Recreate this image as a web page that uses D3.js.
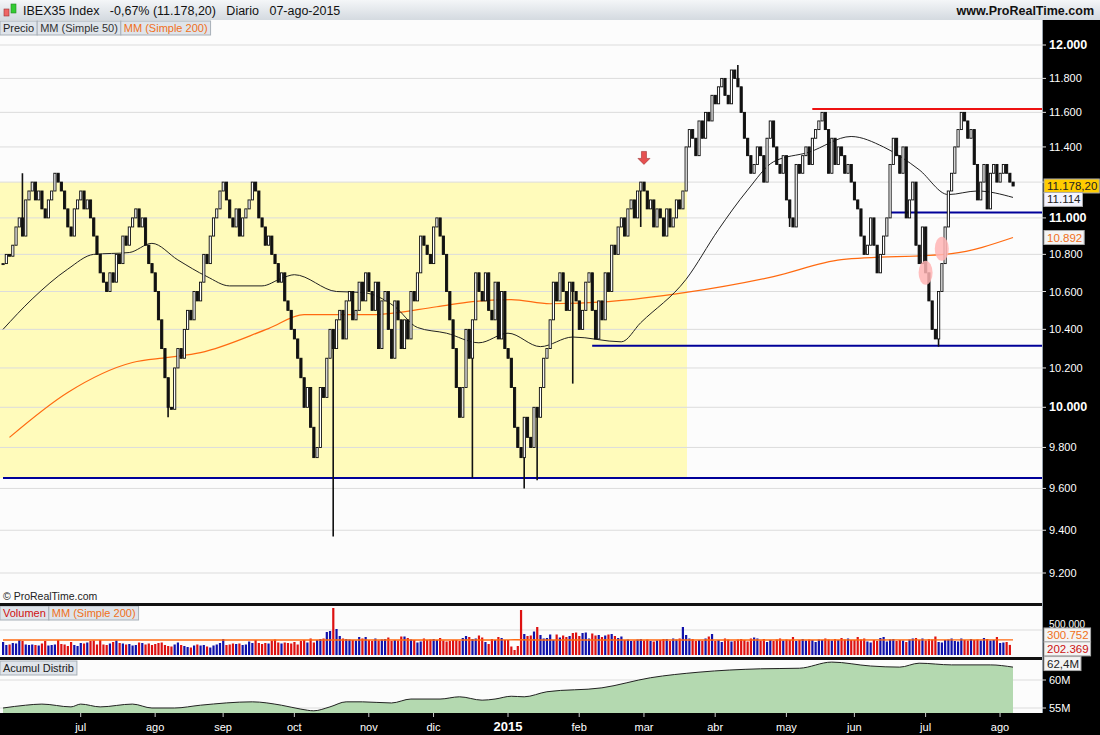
<!DOCTYPE html>
<html><head><meta charset="utf-8">
<script src="https://cdn.jsdelivr.net/npm/d3@7"></script>
<style>
body{margin:0;background:#000;font-family:Arial,"Liberation Sans",sans-serif}
svg text{font-family:Arial,"Liberation Sans",sans-serif}
</style></head><body>
<svg id="c" width="1100" height="735"></svg>
<script>
// daily closes, month by month
const closes = [].concat(
  [10750,10800,10790],
  [10850,10950,11000,10900,11100,11150,11200,11100,11150,11050,11000,11100,11150,11250,11200,11150,11050,10950,10900,11050,11100],
  [11150,11050,11100,11000,10900,10800,10700,10650,10600,10700,10650,10800,10750,10900,10850,10950,11000,11050,10950,11000,10850,10750,10700],
  [10600,10450,10300,10150,10000,9990,10200,10300,10250,10400,10500,10450,10600,10550,10650,10800,10750,10900,11000,11050,11150],
  [11200,11100,11000,10950,11050,10900,11000,11050,11100,11200,11150,11000,10950,10850,10900,10800,10750,10650,10700,10550,10500,10400],
  [10350,10250,10150,10000,10100,9900,9750,9800,10100,10050,10250,10400,10300,10450,10500,10350,10550,10600,10450,10500,10650,10550,10700],
  [10600,10500,10650,10300,10550,10600,10400,10250,10550,10450,10300,10450,10350,10600,10550,10700,10900,10850,10800,10750],
  [10950,11000,10900,10800,10600,10450,10300,10100,9950,10100,10400,10250,10450,10700,10600,10550,10700,10500,10450,10650,10350,10600,10300],
  [10250,10100,9900,9800,9750,9950,9850,9800,10000,9950,10100,10250,10300,10450,10650,10550,10700,10600,10500,10650,10600,10550],
  [10400,10500,10650,10700,10500,10350,10550,10450,10700,10600,10850,10800,10950,11000,10900,11050,11100,11000,11150,11200],
  [11150,11050,11100,10950,11050,11000,10900,11050,10950,11000,11100,11050,11150,11400,11500,11450,11350,11550,11450,11600,11550,11700],
  [11650,11750,11800,11700,11650,11850,11800,11750,11600,11450,11350,11250,11300,11400,11350,11200,11450,11550,11400,11300,11250,11350],
  [11100,11000,10950,11300,11250,11350,11400,11300,11450,11500,11550,11600,11500,11250,11450,11300,11400,11350,11250,11300,11200],
  [11100,11050,10900,10800,10850,11000,10850,10700,10800,10900,11000,11300,11450,11350,11250,11400,11000,11100,11200,10850,10750,10950],
  [10700,10550,10400,10350,10600,10750,10950,11150,11250,11400,11500,11600,11550,11450,11500,11300,11100,11200,11300,11050,11250,11300,11200],
  [11250,11300,11250,11200,11178]
);
// notable wick extremes [bar index, price]
const lowWicks = [[51,9950],[102,9370],[145,9650],[161,9600],[165,9640],[243,10950],[289,10310],[176,10120],[197,10950]];
const highWicks = [[6,11250],[198,11200],[227,11880]];
// volume in thousands
const volume = [
  260,200,210,
  240,230,300,280,210,200,210,200,190,230,280,190,200,210,300,220,210,180,260,200,180,
  240,230,250,280,290,210,300,210,200,230,260,290,240,230,210,220,190,200,250,240,210,230,200,
  220,240,250,200,180,170,210,250,200,180,160,150,190,210,190,200,170,150,190,210,240,
  320,200,210,230,220,230,200,210,270,240,300,240,220,240,230,290,310,250,230,250,240,230,
  260,210,280,300,250,330,250,300,320,330,460,480,940,520,380,330,320,310,300,290,360,330,360,
  300,280,330,290,310,320,350,280,300,290,370,370,340,310,300,250,270,330,300,310,
  320,300,340,290,270,280,300,300,280,340,380,360,320,330,390,350,260,220,320,300,360,340,300,
  300,170,100,180,900,420,380,390,470,560,400,330,340,410,300,410,350,390,360,380,440,450,
  380,440,450,330,430,390,400,360,390,410,420,380,340,370,300,310,280,290,310,320,
  290,310,280,270,290,300,320,320,280,330,310,330,560,400,330,320,280,300,280,330,370,420,
  280,300,260,330,310,270,280,310,320,300,270,330,350,330,290,320,260,300,280,310,330,290,
  310,300,360,280,300,320,290,310,300,260,310,300,330,310,290,320,300,340,310,330,300,
  300,360,310,330,270,250,300,280,340,360,270,310,320,280,300,290,260,310,330,340,300,330,
  290,320,310,370,260,250,300,310,330,280,270,330,300,290,320,300,310,290,340,320,290,300,
  360,240,250,260,202
];
const volMa = [[0,300],[150,300],[158,305],[165,300],[312,300.752]];
// moving averages read at [bar index, value]
const ma50 = [[0,10400],[9,10560],[20,10720],[28,10800],[39,10810],[46,10860],[54,10770],[63,10680],[70,10630],[80,10630],[86,10670],[90,10690],[103,10600],[111,10595],[121,10520],[128,10410],[137,10380],[147,10330],[156,10380],[166,10310],[176,10360],[191,10335],[197,10435],[211,10665],[221,10935],[230,11155],[238,11315],[249,11370],[262,11460],[272,11400],[283,11270],[292,11130],[301,11150],[312,11114]];
const ma200 = [[2,9850],[20,10075],[40,10228],[51,10254],[61,10279],[82,10404],[93,10477],[114,10477],[134,10519],[145,10546],[157,10557],[169,10535],[187,10546],[211,10595],[238,10680],[259,10771],[293,10804],[312,10892]];
// accumulation / distribution, millions
const accDist = [[0,55.0],[7,55.5],[12,55.7],[21,55.2],[24,55.7],[30,55.2],[40,55.7],[46,55.0],[53,55.0],[61,55.5],[77,56.1],[86,55.5],[92,54.8],[96,54.5],[101,55.2],[106,56.1],[111,56.1],[120,55.9],[126,56.6],[135,56.6],[141,57.0],[148,56.4],[152,56.6],[157,57.1],[161,57.0],[168,57.9],[185,58.6],[200,60.4],[215,61.4],[234,62.0],[246,62.1],[256,63.2],[268,62.5],[277,62.3],[283,63.0],[293,62.7],[305,62.7],[312,62.3]];
const priceTicks = [9200,9400,9600,9800,10000,10200,10400,10600,10800,11000,11200,11400,11600,11800,12000];
const hiddenTicks = [11200];
const monthTicks = [[24,"jul"],[47,"ago"],[68,"sep"],[90,"oct"],[113,"nov"],[133,"dic"],[156,"2015"],[178,"feb"],[198,"mar"],[220,"abr"],[242,"may"],[263,"jun"],[285,"jul"],[308,"ago"]];
const hLines = [
  {v:11620, i0:250, col:"#ee1111"},
  {v:11030, i0:274, col:"#000099"},
  {v:10315, i0:182, col:"#000099"},
  {v:9650, i0:0, col:"#000099"}
];

const svg = d3.select("#c");
const W = 1042;
const fmt = d3.format(",.0f");
const es = s => s.replace(/,/g, ".");

const x = d3.scaleLinear().domain([0, closes.length - 1]).range([3, 1013]);
const y = d3.scaleLog().domain([9200, 12000]).range([573, 45]);
const yv = d3.scaleLinear().domain([0, 1000]).range([655, 605]);
const ya = d3.scaleLinear().domain([55, 60]).range([708, 680]);

// header
const grad = svg.append("defs").append("linearGradient").attr("id","hg").attr("x1",0).attr("y1",0).attr("x2",0).attr("y2",1);
grad.append("stop").attr("offset",0).attr("stop-color","#f4f6f8");
grad.append("stop").attr("offset",1).attr("stop-color","#d4dae0");
svg.append("rect").attr("width",1100).attr("height",20).attr("fill","url(#hg)");
svg.append("rect").attr("x",4).attr("y",9).attr("width",5).attr("height",7).attr("fill","#e66").attr("stroke","#933").attr("stroke-width",0.6);
svg.append("rect").attr("x",11).attr("y",4).attr("width",5).attr("height",9).attr("fill","#3c3").attr("stroke","#282").attr("stroke-width",0.6);
svg.append("text").attr("x",23).attr("y",15).attr("font-size",12.5).attr("fill","#111")
  .text("IBEX35 Index   -0,67% (11.178,20)   Diario   07-ago-2015").attr("xml:space","preserve");
svg.append("text").attr("x",1094).attr("y",15).attr("text-anchor","end").attr("font-size",12.5).attr("font-weight","bold").attr("fill","#111").text("www.ProRealTime.com");

// panels
svg.append("rect").attr("x",0).attr("y",20).attr("width",W).attr("height",583).attr("fill","#fcfcfc");
svg.append("rect").attr("x",0).attr("y",606).attr("width",W).attr("height",51).attr("fill","#fcfcfc");
svg.append("rect").attr("x",0).attr("y",660).attr("width",W).attr("height",53).attr("fill","#fcfcfc");

// yellow zone
svg.append("rect").attr("x",0).attr("y",y(11200)).attr("width",687).attr("height",y(9650)-y(11200)).attr("fill","#fffbbb");

// grid
svg.append("g").selectAll("line").data(priceTicks).join("line")
  .attr("x1",0).attr("x2",W).attr("y1",d=>y(d)).attr("y2",d=>y(d)).attr("stroke","#dcdcdc");
svg.append("g").selectAll("line").data([55,60]).join("line")
  .attr("x1",0).attr("x2",W).attr("y1",d=>ya(d)).attr("y2",d=>ya(d)).attr("stroke","#dcdcdc");
svg.append("line").attr("x1",0).attr("x2",W).attr("y1",yv(500)).attr("y2",yv(500)).attr("stroke","#dcdcdc");

// legend buttons
function btn(x0, y0, label, col) {
  const t = svg.append("text").attr("x",x0+3).attr("y",y0+11).attr("font-size",11).attr("fill",col).text(label);
  const w = t.node().getComputedTextLength() + 6;
  svg.insert("rect","text:last-of-type").attr("x",x0).attr("y",y0).attr("width",w).attr("height",14)
    .attr("fill","#dfe4ea").attr("stroke","#a8b0b8");
  t.raise();
  return x0 + w;
}
let bx = btn(0,21,"Precio","#222");
bx = btn(bx,21,"MM (Simple 50)","#333");
btn(bx,21,"MM (Simple 200)","#f07020");
bx = btn(0,606,"Volumen","#d01010");
btn(bx,606,"MM (Simple 200)","#f07020");
btn(0,661,"Acumul Distrib","#222");

// moving averages
const line = d3.line().x(d=>x(d[0])).y(d=>y(d[1])).curve(d3.curveMonotoneX);
svg.append("path").attr("d",line(ma200)).attr("fill","none").attr("stroke","#ff6a10").attr("stroke-width",1.2);
svg.append("path").attr("d",line(ma50)).attr("fill","none").attr("stroke","#222").attr("stroke-width",1);

// horizontal lines
svg.append("g").selectAll("line").data(hLines).join("line")
  .attr("x1",d=>x(d.i0)).attr("x2",W).attr("y1",d=>y(d.v)).attr("y2",d=>y(d.v))
  .attr("stroke",d=>d.col).attr("stroke-width",2);

// candles
const lowMap = new Map(lowWicks), highMap = new Map(highWicks);
const bars = closes.map((c,i)=>{
  const o = i ? closes[i-1] : c;
  return {i, o, c, lo: lowMap.get(i) ?? Math.min(o,c), hi: highMap.get(i) ?? Math.max(o,c)};
});
const cg = svg.append("g");
cg.selectAll("line").data(bars).join("line")
  .attr("x1",d=>x(d.i)).attr("x2",d=>x(d.i)).attr("y1",d=>y(d.hi)).attr("y2",d=>y(d.lo))
  .attr("stroke","#111").attr("stroke-width",1.6);
cg.selectAll("rect").data(bars).join("rect")
  .attr("x",d=>x(d.i)-1).attr("width",2.2)
  .attr("y",d=>y(Math.max(d.o,d.c))).attr("height",d=>Math.max(1,Math.abs(y(d.o)-y(d.c))))
  .attr("fill",d=>d.c>=d.o?"#fff":"#111").attr("stroke","#111").attr("stroke-width",0.9);

// marker arrow and ellipses
const ax = x(198), ay = y(11300);
svg.append("path").attr("d",`M${ax-2.5},${ay-13}h5v7h3.5l-6,6l-6,-6h3.5z`).attr("fill","#e65050").attr("stroke","#a03030").attr("stroke-width",0.6);
svg.append("ellipse").attr("cx",x(285)).attr("cy",y(10700)).attr("rx",7).attr("ry",12).attr("fill","#ffb4b4").attr("opacity",0.85);
svg.append("ellipse").attr("cx",x(290)).attr("cy",y(10830)).attr("rx",7).attr("ry",12).attr("fill","#ffb4b4").attr("opacity",0.85);

svg.append("text").attr("x",3).attr("y",600).attr("font-size",10.5).attr("fill","#222").text("© ProRealTime.com");

// volume
svg.append("g").selectAll("rect").data(volume).join("rect")
  .attr("x",(d,i)=>x(i)-1).attr("width",2.2).attr("y",d=>yv(d)).attr("height",d=>yv(0)-yv(d))
  .attr("fill",(d,i)=> i>0 && closes[i]<closes[i-1] ? "#dd1111" : "#1111aa");
svg.append("path").attr("d",d3.line().x(d=>x(d[0])).y(d=>yv(d[1]))(volMa)).attr("fill","none").attr("stroke","#ff6a10").attr("stroke-width",1.3);

// acc/dist
svg.append("path").attr("d",d3.area().x(d=>x(d[0])).y0(713).y1(d=>ya(d[1])).curve(d3.curveMonotoneX)(accDist)).attr("fill","#b4d9b0");
svg.append("path").attr("d",d3.line().x(d=>x(d[0])).y(d=>ya(d[1])).curve(d3.curveMonotoneX)(accDist)).attr("fill","none").attr("stroke","#222").attr("stroke-width",1);

// separators
[[603,606],[657,660]].forEach(([a,b])=>svg.append("rect").attr("x",0).attr("y",a).attr("width",W).attr("height",b-a).attr("fill","#111"));
svg.append("rect").attr("x",W).attr("y",20).attr("width",58).attr("height",715).attr("fill","#000");
svg.append("rect").attr("x",0).attr("y",713).attr("width",1100).attr("height",22).attr("fill","#000");
svg.append("line").attr("x1",W+0.5).attr("x2",W+0.5).attr("y1",20).attr("y2",713).attr("stroke","#9aa4ae");

// right axis
const ra = svg.append("g");
priceTicks.forEach(v=>{
  ra.append("line").attr("x1",W).attr("x2",W+4).attr("y1",y(v)).attr("y2",y(v)).attr("stroke","#ddd");
  if (hiddenTicks.includes(v)) return;
  const big = v % 1000 === 0;
  ra.append("text").attr("x",W+7).attr("y",y(v)+4).attr("font-size",big?12.5:11).attr("font-weight",big?"bold":"normal")
    .attr("fill","#fff").text(es(fmt(v)));
});
[[55,"55M"],[60,"60M"]].forEach(([v,t])=>{
  ra.append("line").attr("x1",W).attr("x2",W+4).attr("y1",ya(v)).attr("y2",ya(v)).attr("stroke","#ddd");
  ra.append("text").attr("x",W+7).attr("y",ya(v)+4).attr("font-size",11).attr("fill","#fff").text(t);
});
ra.append("text").attr("x",W+7).attr("y",yv(500)-2).attr("font-size",10).attr("fill","#fff").text("500.000");

function badge(yc, label, bg, col) {
  const t = ra.append("text").attr("x",W+5).attr("y",yc+4).attr("font-size",11.5).attr("fill",col).text(label);
  const w = t.node().getComputedTextLength() + 5;
  ra.insert("rect","text:last-of-type").attr("x",W+2).attr("y",yc-7).attr("width",w).attr("height",14).attr("fill",bg).attr("stroke","#aaa");
  t.raise();
}
badge(y(11178.2),"11.178,20","#ffcc00","#222");
badge(y(11114)+2,"11.114","#f4f4ff","#222");
badge(y(10892),"10.892","#f4f4f4","#f07020");
badge(yv(300.752)-5,"300.752","#f4f4f4","#f07020");
badge(yv(202.369)+4,"202.369","#f4f4f4","#cc1111");
badge(ya(62.4)-3,"62,4M","#f4f4f4","#222");

// date axis
const da = svg.append("g");
monthTicks.forEach(([i,t])=>{
  da.append("line").attr("x1",x(i)).attr("x2",x(i)).attr("y1",713).attr("y2",717).attr("stroke","#ccc");
  da.append("text").attr("x",x(i)).attr("y",731).attr("text-anchor","middle")
    .attr("font-size",t==="2015"?13:11).attr("font-weight",t==="2015"?"bold":"normal").attr("fill","#fff").text(t);
});
</script></body></html>
